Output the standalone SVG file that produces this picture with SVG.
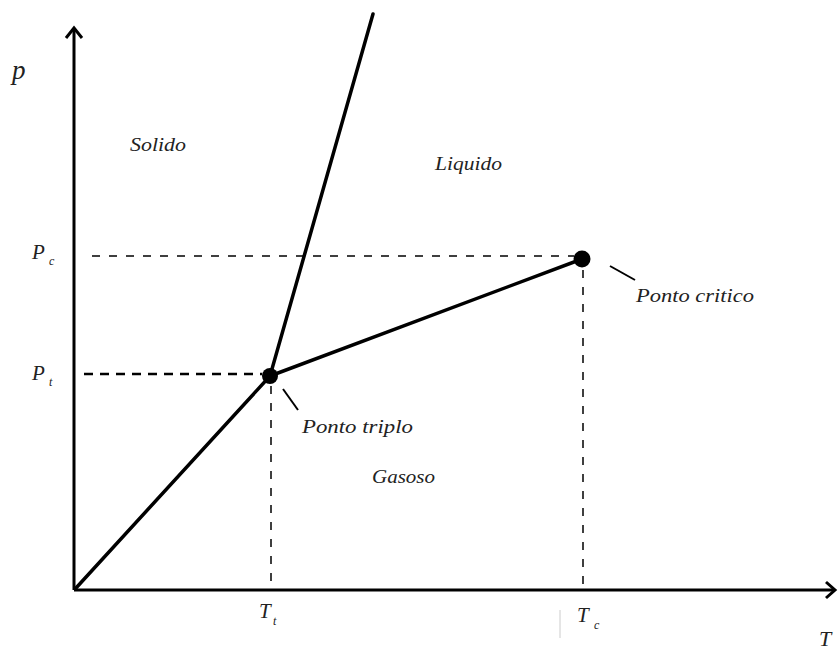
<svg xmlns="http://www.w3.org/2000/svg" width="840" height="652" viewBox="0 0 840 652">
<style>
.t{font-family:"Liberation Serif","DejaVu Serif",serif;font-style:italic;fill:#222}
.ax{stroke:#000;stroke-width:3;fill:none}
.ph{stroke:#000;stroke-width:3.5;fill:none;stroke-linecap:round}
.d{stroke:#000;stroke-width:1.5;fill:none;stroke-dasharray:8 9}
.lead{stroke:#000;stroke-width:2;fill:none}
</style>
<rect width="840" height="652" fill="#fff"/>
<g id="axes">
<line class="ax" x1="74" y1="590" x2="74" y2="29"/>
<polyline class="ax" points="66,38 74,28 82,38"/>
<line class="ax" x1="74" y1="590" x2="834" y2="590"/>
<polyline class="ax" points="826,582 835,590 826,598"/>
</g>
<g id="connectors">
<line class="d" x1="92" y1="256" x2="574" y2="256"/>
<line class="d" x1="84" y1="374" x2="262" y2="374" style="stroke-width:2.5;stroke-dasharray:9 7"/>
<line class="d" x1="271" y1="386" x2="271" y2="590"/>
<line class="d" x1="583" y1="270" x2="583" y2="590"/>
<line class="ph" x1="76" y1="588" x2="270" y2="376"/>
<line class="ph" x1="270" y1="376" x2="373" y2="14"/>
<line class="ph" x1="270" y1="376" x2="582" y2="259"/>
<line class="lead" x1="283" y1="389" x2="298" y2="410"/>
<line class="lead" x1="610" y1="266" x2="635" y2="280"/>
<line x1="560" y1="610" x2="560" y2="638" stroke="#ccc" stroke-width="1"/>
</g>
<g id="triple-point"><circle cx="270" cy="376" r="8" fill="#000"/></g>
<g id="critical-point"><circle cx="582" cy="259" r="8.5" fill="#000"/></g>
<g id="labels">
<text class="t" x="12" y="79" font-size="27">p</text>
<text class="t" x="130" y="151" font-size="19" textLength="56" lengthAdjust="spacingAndGlyphs">Solido</text>
<text class="t" x="435" y="170" font-size="19" textLength="67" lengthAdjust="spacingAndGlyphs">Liquido</text>
<text class="t" x="32" y="259" font-size="21">P</text>
<text class="t" x="49" y="265" font-size="12">c</text>
<text class="t" x="32" y="380" font-size="21">P</text>
<text class="t" x="49" y="386" font-size="12">t</text>
<text class="t" x="636" y="302" font-size="19" textLength="118" lengthAdjust="spacingAndGlyphs">Ponto critico</text>
<text class="t" x="302" y="433" font-size="19" textLength="111" lengthAdjust="spacingAndGlyphs">Ponto triplo</text>
<text class="t" x="372" y="483" font-size="19" textLength="63" lengthAdjust="spacingAndGlyphs">Gasoso</text>
<text class="t" x="259" y="618" font-size="21">T</text>
<text class="t" x="273" y="625" font-size="12">t</text>
<text class="t" x="577" y="622" font-size="21">T</text>
<text class="t" x="594" y="629" font-size="12">c</text>
<text class="t" x="819" y="646" font-size="22">T</text>
</g>
</svg>
